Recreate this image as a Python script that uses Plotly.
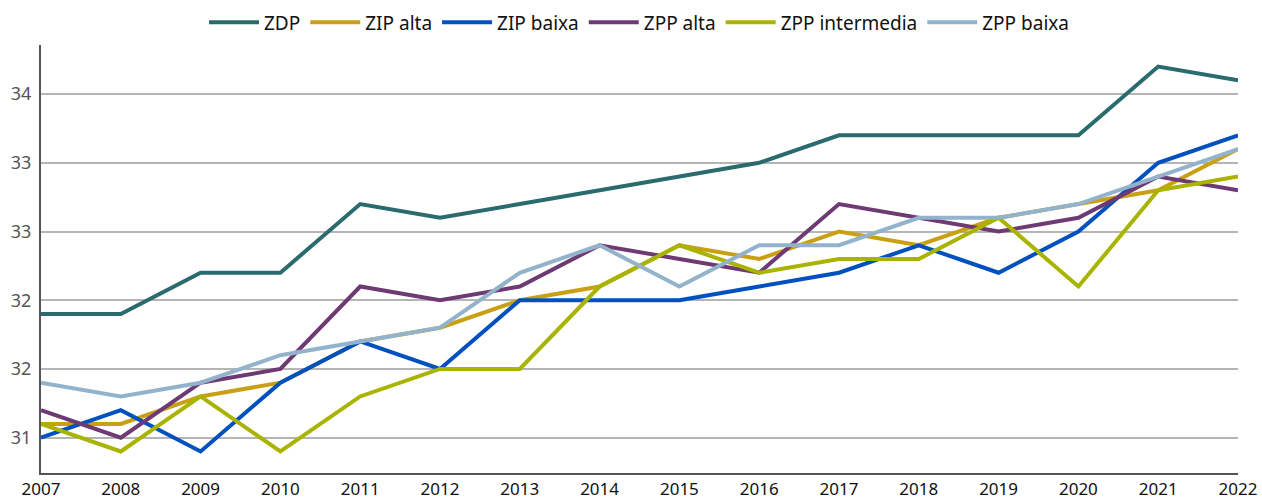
import plotly.graph_objects as go

years = list(range(2007, 2023))
zdp = [31.9, 31.9, 32.2, 32.2, 32.7, 32.6, 32.7, 32.8, 32.9, 33.0, 33.2, 33.2, 33.2, 33.2, 33.7, 33.6]
zip_alta = [31.1, 31.1, 31.3, 31.4, 31.7, 31.8, 32.0, 32.1, 32.4, 32.3, 32.5, 32.4, 32.6, 32.7, 32.8, 33.1]
zip_baixa = [31.0, 31.2, 30.9, 31.4, 31.7, 31.5, 32.0, 32.0, 32.0, 32.1, 32.2, 32.4, 32.2, 32.5, 33.0, 33.2]
zpp_alta = [31.2, 31.0, 31.4, 31.5, 32.1, 32.0, 32.1, 32.4, 32.3, 32.2, 32.7, 32.6, 32.5, 32.6, 32.9, 32.8]
zpp_intermedia = [31.1, 30.9, 31.3, 30.9, 31.3, 31.5, 31.5, 32.1, 32.4, 32.2, 32.3, 32.3, 32.6, 32.1, 32.8, 32.9]
zpp_baixa = [31.4, 31.3, 31.4, 31.6, 31.7, 31.8, 32.2, 32.4, 32.1, 32.4, 32.4, 32.6, 32.6, 32.7, 32.9, 33.1]

y_tickvals = [31, 31.5, 32, 32.5, 33, 33.5]
y_ticktext = ["31", "32", "32", "33", "33", "34"]

series = [
    ("ZDP", zdp, "#2a6b6e"),
    ("ZIP alta", zip_alta, "#c9a013"),
    ("ZIP baixa", zip_baixa, "#0050c0"),
    ("ZPP alta", zpp_alta, "#6e3a73"),
    ("ZPP intermedia", zpp_intermedia, "#a8b400"),
    ("ZPP baixa", zpp_baixa, "#93b3cc"),
]

fig = go.Figure()
for name, vals, color in series:
    fig.add_trace(go.Scatter(x=years, y=vals, name=name, mode="lines",
                             line=dict(color=color, width=4)))

fig.update_layout(
    width=1262, height=499,
    margin=dict(l=41, r=24, t=45, b=26),
    paper_bgcolor="white", plot_bgcolor="white",
    font=dict(family="Noto Sans", size=17, color="#222"),
    showlegend=True,
    legend=dict(orientation="h", x=0.5, xanchor="center", xref="paper",
                yref="container", y=0.993, yanchor="top",
                font=dict(size=19, color="#111"), traceorder="normal",
                itemwidth=50, bgcolor="rgba(0,0,0,0)"),
)
fig.update_xaxes(range=[2007, 2022], tickvals=years, showgrid=False, showline=True,
                 linecolor="#555", linewidth=2, ticks="", zeroline=False, automargin=False,
                 tickfont=dict(size=17, color="#111"))
fig.update_yaxes(range=[30.743, 33.857], tickvals=y_tickvals, ticktext=y_ticktext,
                 showgrid=True, gridcolor="#b5b5b5", gridwidth=2, showline=True,
                 linecolor="#555", linewidth=2, ticks="", zeroline=False, automargin=False,
                 ticklabelstandoff=4,
                 tickfont=dict(size=18, color="#555"))

fig.write_html("out.html", config={"displayModeBar": False},
               post_script="document.body.style.margin='0';")
